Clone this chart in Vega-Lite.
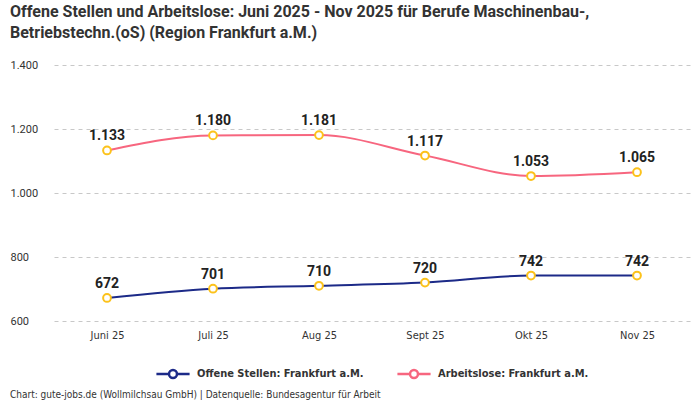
{
  "$schema": "https://vega.github.io/schema/vega-lite/v6.json",
  "padding": {"left": 10, "top": 4, "right": 10, "bottom": 2},
  "background": "white",
  "title": {
    "text": "Chart: gute-jobs.de (Wollmilchsau GmbH) | Datenquelle: Bundesagentur für Arbeit",
    "orient": "bottom",
    "anchor": "start",
    "frame": "bounds",
    "fontSize": 10,
    "fontWeight": "normal",
    "font": "DejaVu Sans Condensed, Roboto",
    "color": "#333333",
    "offset": 7
  },
  "data": {
    "values": [
      {"Monat": "Juni 25", "Reihe": "Offene Stellen: Frankfurt a.M.", "Wert": 672},
      {"Monat": "Juli 25", "Reihe": "Offene Stellen: Frankfurt a.M.", "Wert": 701},
      {"Monat": "Aug 25", "Reihe": "Offene Stellen: Frankfurt a.M.", "Wert": 710},
      {"Monat": "Sept 25", "Reihe": "Offene Stellen: Frankfurt a.M.", "Wert": 720},
      {"Monat": "Okt 25", "Reihe": "Offene Stellen: Frankfurt a.M.", "Wert": 742},
      {"Monat": "Nov 25", "Reihe": "Offene Stellen: Frankfurt a.M.", "Wert": 742},
      {"Monat": "Juni 25", "Reihe": "Arbeitslose: Frankfurt a.M.", "Wert": 1133},
      {"Monat": "Juli 25", "Reihe": "Arbeitslose: Frankfurt a.M.", "Wert": 1180},
      {"Monat": "Aug 25", "Reihe": "Arbeitslose: Frankfurt a.M.", "Wert": 1181},
      {"Monat": "Sept 25", "Reihe": "Arbeitslose: Frankfurt a.M.", "Wert": 1117},
      {"Monat": "Okt 25", "Reihe": "Arbeitslose: Frankfurt a.M.", "Wert": 1053},
      {"Monat": "Nov 25", "Reihe": "Arbeitslose: Frankfurt a.M.", "Wert": 1065}
    ]
  },
  "vconcat": [
    {
      "width": 636,
      "height": 256,
      "title": {
        "text": ["Offene Stellen und Arbeitslose: Juni 2025 - Nov 2025 für Berufe Maschinenbau-,", "Betriebstechn.(oS) (Region Frankfurt a.M.)"],
        "anchor": "start",
        "frame": "bounds",
        "fontSize": 16,
        "fontWeight": "bold",
        "font": "Roboto",
        "color": "#333333",
        "lineHeight": 21,
        "offset": 18
      },
      "encoding": {
        "x": {
          "field": "Monat",
          "type": "ordinal",
          "sort": ["Juni 25", "Juli 25", "Aug 25", "Sept 25", "Okt 25", "Nov 25"],
          "scale": {"type": "point", "padding": 0.5},
          "axis": {
            "title": null,
            "labelAngle": 0,
            "grid": false,
            "domain": false,
            "ticks": false,
            "labelPadding": 8,
            "labelFontSize": 11,
            "labelFont": "DejaVu Sans Condensed, Roboto",
            "labelColor": "#333333"
          }
        },
        "y": {
          "field": "Wert",
          "type": "quantitative",
          "scale": {"domain": [600, 1400]},
          "axis": {
            "title": null,
            "values": [600, 800, 1000, 1200, 1400],
            "format": ",d",
            "domain": false,
            "ticks": false,
            "grid": true,
            "gridDash": [4, 4],
            "gridColor": "#c8c8c8",
            "labelAlign": "left",
            "labelPadding": 44,
            "labelFontSize": 11,
            "labelFont": "Roboto",
            "labelColor": "#333333"
          }
        }
      },
      "layer": [
        {
          "mark": {"type": "line", "interpolate": "monotone", "strokeWidth": 2},
          "encoding": {
            "color": {
              "field": "Reihe",
              "type": "nominal",
              "sort": ["Offene Stellen: Frankfurt a.M.", "Arbeitslose: Frankfurt a.M."],
              "scale": {
                "domain": ["Offene Stellen: Frankfurt a.M.", "Arbeitslose: Frankfurt a.M."],
                "range": ["#1c2a88", "#f7667f"]
              },
              "legend": {
                "title": null,
                "orient": "bottom",
                "direction": "horizontal",
                "offset": 16,
                "symbolType": "M-1,0H-0.24M0.24,0H1M0.24,0A0.24,0.24 0 1,1 -0.24,0A0.24,0.24 0 1,1 0.24,0",
                "symbolSize": 1100,
                "symbolStrokeWidth": 2.5,
                "symbolFillColor": "white",
                "labelFont": "DejaVu Sans Condensed, Roboto",
                "labelFontSize": 11,
                "labelFontWeight": "bold",
                "labelColor": "#333333",
                "labelOffset": 6,
                "columnPadding": 28,
                "labelLimit": 300
              }
            }
          }
        },
        {
          "mark": {"type": "point", "filled": true, "fill": "white", "stroke": "#fcc21b", "strokeWidth": 2, "size": 60, "opacity": 1}
        },
        {
          "mark": {"type": "text", "dy": -14, "fontSize": 14, "fontWeight": "bold", "font": "Roboto", "color": "#222222"},
          "encoding": {
            "text": {"field": "Wert", "type": "quantitative", "format": ","}
          }
        }
      ]
    }
  ],
  "config": {
    "view": {"stroke": null},
    "legend": {"layout": {"bottom": {"anchor": "middle"}}},
    "locale": {
      "number": {"decimal": ",", "thousands": ".", "grouping": [3], "currency": ["", " €"]}
    }
  }
}
